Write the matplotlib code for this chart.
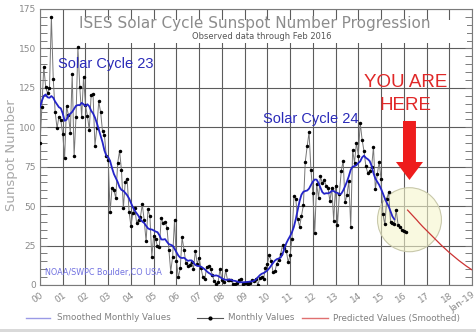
import matplotlib
matplotlib.use("Agg")
import matplotlib.pyplot as plt
import numpy as np
from matplotlib.patches import Ellipse, Rectangle, FancyArrow
from matplotlib.lines import Line2D
from matplotlib.ticker import MultipleLocator

# Monthly sunspot numbers, Jan 2000 .. Feb 2016
monthly_start = 2000.0
monthly_values = [
    90.1, 112.9, 138.5, 125.5, 121.6, 124.9, 170.1, 130.5, 109.7, 99.4, 106.8, 104.4,
    95.6, 80.6, 113.5, 107.7, 96.6, 134.0, 81.8, 106.4, 150.7, 125.5, 106.5, 132.2,
    114.1, 107.4, 98.4, 120.7, 120.8, 88.3, 99.6, 116.4, 109.6, 97.5, 95.0, 81.6,
    79.5, 46.2, 61.5, 60.0, 55.2, 77.4, 85.0, 72.7, 48.7, 65.5, 67.3, 46.5,
    37.3, 45.8, 49.1, 39.3, 41.5, 43.2, 51.1, 40.9, 27.7, 48.0, 43.5, 17.9,
    31.3, 29.2, 24.5, 24.2, 42.7, 39.3, 40.0, 36.4, 22.1, 8.5, 18.0, 41.2,
    15.3, 4.9, 10.6, 30.2, 22.3, 13.9, 12.2, 12.9, 14.4, 10.4, 21.5, 13.6,
    16.9, 10.6, 4.8, 3.7, 11.7, 12.0, 10.0, 6.2, 2.4, 0.9, 1.7, 10.1,
    3.3, 2.1, 9.3, 2.9, 2.9, 3.1, 0.5, 0.5, 1.1, 2.9, 4.1, 0.8,
    1.5, 1.4, 0.7, 1.2, 2.9, 2.6, 3.5, 0.0, 4.3, 4.8, 4.1, 10.8,
    13.2, 18.8, 15.4, 8.0, 8.7, 13.6, 16.1, 19.6, 25.2, 23.5, 21.6, 14.5,
    19.0, 29.4, 56.2, 54.4, 41.6, 37.0, 43.9, 50.6, 78.0, 88.0, 96.7, 73.0,
    58.3, 33.1, 64.2, 55.2, 69.0, 64.5, 66.5, 63.0, 61.4, 53.3, 61.8, 40.8,
    62.9, 38.1, 57.9, 72.4, 78.7, 52.5, 57.0, 66.0, 37.0, 85.6, 77.6, 90.3,
    82.0, 102.8, 92.2, 84.7, 75.2, 71.0, 72.4, 74.6, 87.6, 60.6, 70.1, 78.0,
    67.0, 44.8, 38.4, 54.4, 58.8, 40.2, 39.1, 38.7, 47.4, 38.0, 37.0, 34.8,
    34.0, 33.4,
]

# 13-month smoothed values, Jan 2000 .. Aug 2015
smoothed_start = 2000.0
smoothed_values = [
    112.9, 116.8, 119.9, 120.8, 119.0, 118.7, 119.8, 118.7, 116.3, 114.5, 112.7, 112.0,
    108.7, 104.1, 104.8, 107.6, 108.6, 109.8, 111.7, 113.6, 114.1, 114.0, 115.5, 114.6,
    113.5, 114.6, 113.3, 110.5, 108.8, 106.2, 102.7, 98.7, 94.6, 90.5, 85.3, 82.1,
    81.0, 78.6, 74.2, 70.4, 67.9, 65.3, 62.0, 60.3, 59.7, 58.4, 56.9, 54.9,
    52.1, 49.3, 47.1, 45.5, 43.8, 41.6, 40.2, 39.3, 37.5, 35.9, 35.3, 35.2,
    34.6, 33.9, 33.5, 31.6, 28.9, 28.8, 29.1, 27.4, 25.9, 25.5, 24.9, 23.0,
    20.8, 18.7, 17.4, 17.1, 17.3, 16.3, 15.3, 15.6, 15.6, 14.2, 12.7, 12.1,
    12.0, 11.6, 10.8, 9.9, 8.7, 7.7, 7.0, 6.1, 5.9, 6.1, 5.7, 5.0,
    4.2, 3.6, 3.3, 3.3, 3.5, 3.2, 2.7, 2.6, 2.2, 1.8, 1.7, 1.7,
    1.8, 1.9, 2.0, 2.2, 2.3, 2.7, 3.6, 4.9, 6.2, 7.1, 7.6, 8.3,
    9.3, 10.6, 12.3, 14.0, 15.5, 16.4, 16.8, 17.4, 19.6, 23.2, 26.5, 28.9,
    31.0, 33.5, 36.9, 41.8, 47.6, 53.2, 57.3, 59.1, 59.6, 59.9, 61.1, 63.4,
    65.5, 66.9, 66.8, 64.6, 61.7, 58.9, 57.8, 58.2, 58.1, 58.6, 59.7, 59.6,
    58.7, 58.4, 57.6, 57.9, 59.9, 62.6, 65.5, 69.0, 73.1, 75.0, 75.4, 76.0,
    77.4, 78.4, 80.9, 82.0, 80.6, 79.8, 78.6, 75.6, 70.9, 67.4, 65.5, 63.5,
    60.9, 58.0, 54.8, 52.2, 49.9, 46.7, 43.5, 41.7,
]

# Predicted smoothed values, Mar 2016 .. Jan 2019
predicted_start = 2016.0 + 2 / 12
predicted_values = [
    47.5, 46.2, 44.9, 43.6, 42.3, 41.0, 39.6, 38.3, 37.0, 35.8,
    34.6, 33.4, 32.2, 31.0, 29.8, 28.6, 27.4, 26.2, 25.0, 23.9, 22.8, 21.7,
    20.6, 19.6, 18.6, 17.6, 16.6, 15.6, 14.7, 13.8, 12.9, 12.0, 11.2, 10.4,
    9.6,
]

x_tick_years = list(range(2000, 2020))
x_tick_labels = ["00", "01", "02", "03", "04", "05", "06", "07", "08", "09",
                 "10", "11", "12", "13", "14", "15", "16", "17", "18", "Jan-19"]
y_ticks = [0, 25, 50, 75, 100, 125, 150, 175]

W, H = 476, 332
fig = plt.figure(figsize=(W / 100, H / 100), dpi=100)
fig.patch.set_facecolor("white")

ax_left, ax_right, ax_top, ax_bottom = 40, 472, 9, 285
ax = fig.add_axes([ax_left / W, 1 - ax_bottom / H,
                   (ax_right - ax_left) / W, (ax_bottom - ax_top) / H])
ax.set_xlim(2000, 2019)
ax.set_ylim(0, 175)
ax.set_axisbelow(True)

# grid and ticks
ax.set_xticks(x_tick_years)
ax.set_xticklabels(x_tick_labels, rotation=35, ha="right", va="top",
                   rotation_mode="anchor", fontsize=6.5, color="#8a8a8a")
ax.set_yticks(y_ticks)
ax.set_yticklabels([str(v) for v in y_ticks], fontsize=6.5, color="#8a8a8a")
ax.yaxis.set_minor_locator(MultipleLocator(5))
ax.grid(True, which="major", color="#5c5c5c", lw=0.8)
ax.tick_params(axis="x", length=0, pad=4)
ax.tick_params(axis="y", which="both", direction="in", left=True, right=True,
               length=5, width=0.7, color="#7a7a7a", pad=3)
for s in ax.spines.values():
    s.set_color("#7a7a7a")
    s.set_linewidth(0.8)

# white panel behind the title
ax.add_patch(Rectangle((2001.35, 153.5), 17.45, 14.5, facecolor="white",
                       edgecolor="none", zorder=1))
ax.text(2009.45, 166.1, "ISES Solar Cycle Sunspot Number Progression",
        ha="center", va="center", fontsize=11, color="#8c8c8c", zorder=6)
ax.text(2009.76, 157.3, "Observed data through Feb 2016",
        ha="center", va="center", fontsize=6, color="#555555", zorder=6)

# highlight circle
ax.add_patch(Ellipse((2016.25, 41.4), 2.81, 40.6,
                     facecolor=(0.96, 0.96, 0.80, 0.6),
                     edgecolor="#c8c8aa", lw=0.8, zorder=1.5))

# series
mx = monthly_start + np.arange(len(monthly_values)) / 12
sx = smoothed_start + np.arange(len(smoothed_values)) / 12
px = predicted_start + np.arange(len(predicted_values)) / 12

ax.plot(mx, monthly_values, color="#767676", lw=0.7, marker="o", ms=1.5,
        mfc="black", mec="black", zorder=3)
ax.plot(sx, smoothed_values, color="#2424c8", lw=1.3, zorder=4)
ax.plot(px, predicted_values, color="#cc3333", lw=0.9, zorder=4)

# annotations
ax.text(2000.79, 140.1, "Solar Cycle 23", fontsize=10.5, color="#2a2ab8",
        family="Liberation Sans", ha="left", va="center", zorder=6)
ax.text(2009.81, 105.3, "Solar Cycle 24", fontsize=10.5, color="#2a2ab8",
        family="Liberation Sans", ha="left", va="center", zorder=6)
ax.text(2000.22, 8.2, "NOAA/SWPC Boulder,CO USA", fontsize=5.8,
        color="#7070e0", ha="left", va="center", zorder=6)

ax.text(2016.09, 128.1, "YOU ARE", fontsize=13.5, family="Liberation Sans",
        color="#e02828", ha="center", va="center", zorder=6)
ax.text(2016.09, 113.5, "HERE", fontsize=13.5, family="Liberation Sans",
        color="#e02828", ha="center", va="center", zorder=6)
ax.add_patch(FancyArrow(2016.25, 104.0, 0, -(104.0 - 66.6), width=0.57,
                        head_width=1.19, head_length=11.4,
                        length_includes_head=True, color="#ee1c1c",
                        lw=0, zorder=6))

# axis title
fig.text(12 / W, 1 - 155 / H, "Sunspot Number", rotation=90, ha="center",
         va="center", fontsize=9.5, color="#a8a8a8")

# legend row
ly = 1 - 318 / H
fig.add_artist(Line2D([26 / W, 50 / W], [ly, ly], color="#9a9ae6", lw=1.0))
fig.text(57 / W, ly, "Smoothed Monthly Values", fontsize=6.3,
         color="#808080", va="center")
fig.add_artist(Line2D([197 / W, 223 / W], [ly, ly], color="#555555", lw=0.8))
fig.add_artist(Line2D([210 / W], [ly], marker="o", ms=2, color="black"))
fig.text(228 / W, ly, "Monthly Values", fontsize=6.3, color="#808080",
         va="center")
fig.add_artist(Line2D([302 / W, 328 / W], [ly, ly], color="#e07070", lw=1.0))
fig.text(333 / W, ly, "Predicted Values (Smoothed)", fontsize=6.3,
         color="#808080", va="center")

# bottom band
fig.add_artist(Rectangle((0, 0), 1, 3 / H, transform=fig.transFigure,
                         facecolor="#d9d9d9", edgecolor="none"))

fig.savefig("out.png", dpi=100)
